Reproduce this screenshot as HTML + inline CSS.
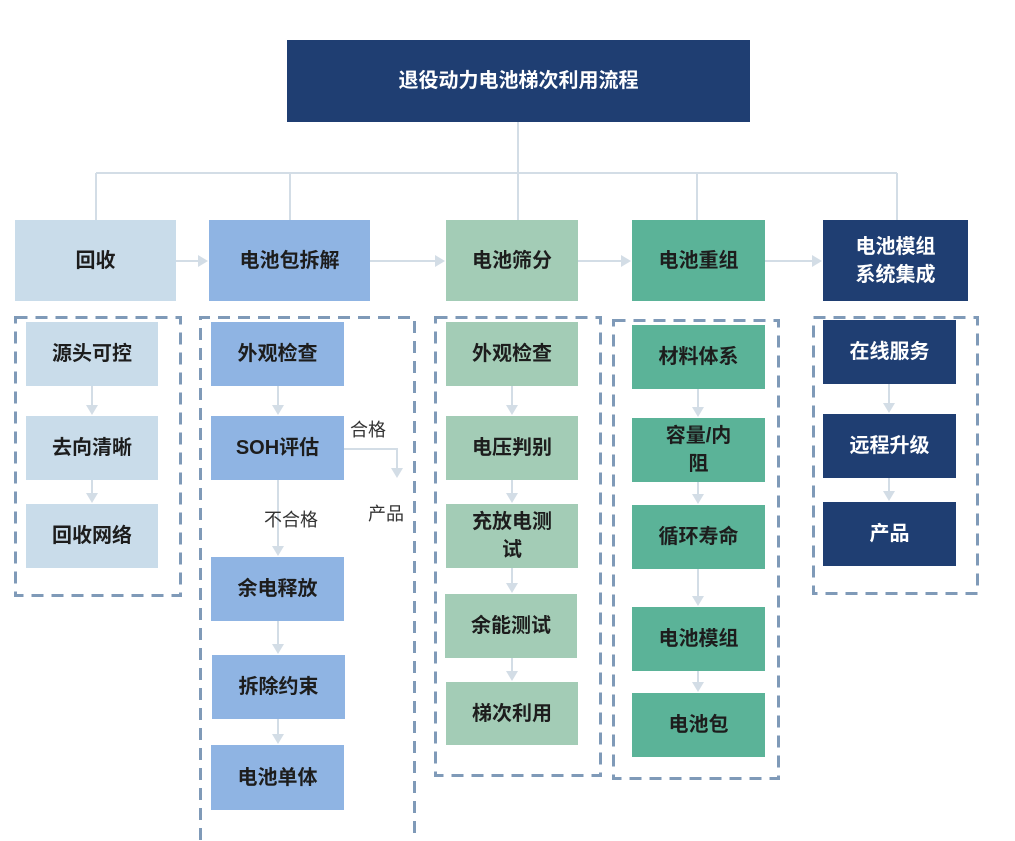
<!DOCTYPE html>
<html><head><meta charset="utf-8"><style>
body{margin:0;width:1015px;height:841px;background:#fff;position:relative;overflow:hidden;font-family:"Liberation Sans","Noto Sans CJK SC",sans-serif;}
.b{position:absolute;display:flex;align-items:center;justify-content:center;text-align:center;font-size:20px;font-weight:bold;color:#1d1d1d;line-height:28px;}
.c1{background:#c9dcea}.c2{background:#8fb4e3}.c3{background:#a3ccb6}.c4{background:#5bb398}.c5{background:#1f3e72;color:#fff}
.t{position:absolute;font-size:18px;color:#333}
svg{position:absolute;left:0;top:0}
</style></head><body>
<svg width="1015" height="841">
<g stroke="#d3dde6" stroke-width="2" fill="none">
<path d="M518 122V173M96 173H897M96 173V220M290 173V220M518 173V220M697 173V220M897 173V220"/>
<path d="M176 261H200M370 261H437M578 261H623M765 261H814"/>
<path d="M92 386V407M92 480V495M278 386V407M278 480V548M278 621V646M278 719V736M512 386V407M512 480V495M512 568V585M512 658V673M698 389V409M698 482V496M698 569V598M698 671V684M889 384V405M889 478V493"/>
<path d="M344 449H397V470"/>
</g>
<g stroke="#7f9ab8" stroke-width="3" fill="none" stroke-dasharray="12 8">
<rect x="15.5" y="317.5" width="165" height="278"/>
<path d="M200.5 860V317.5H414.5V860"/>
<rect x="435.5" y="317.5" width="165" height="458"/>
<rect x="613.5" y="320.5" width="165" height="458"/>
<rect x="813.5" y="317.5" width="164" height="276"/>
</g>
<g fill="#d3dde6">
<path d="M208 261l-10-6v12zM445 261l-10-6v12zM631 261l-10-6v12zM822 261l-10-6v12z"/>
<path d="M92 415l-6-10h12zM92 503l-6-10h12zM278 415l-6-10h12zM278 556l-6-10h12zM278 654l-6-10h12zM278 744l-6-10h12zM512 415l-6-10h12zM512 503l-6-10h12zM512 593l-6-10h12zM512 681l-6-10h12zM698 417l-6-10h12zM698 504l-6-10h12zM698 606l-6-10h12zM698 692l-6-10h12zM889 413l-6-10h12zM889 501l-6-10h12zM397 478l-6-10h12z"/>
</g>
</svg>
<div class="b c5" style="left:287px;top:40px;width:463px;height:82px;">退役动力电池梯次利用流程</div>
<div class="b c1" style="left:15px;top:220px;width:161px;height:81px;">回收</div>
<div class="b c2" style="left:209px;top:220px;width:161px;height:81px;">电池包拆解</div>
<div class="b c3" style="left:446px;top:220px;width:132px;height:81px;">电池筛分</div>
<div class="b c4" style="left:632px;top:220px;width:133px;height:81px;">电池重组</div>
<div class="b c5" style="left:823px;top:220px;width:145px;height:81px;">电池模组<br>系统集成</div>
<div class="b c1" style="left:26px;top:322px;width:132px;height:64px;">源头可控</div>
<div class="b c1" style="left:26px;top:416px;width:132px;height:64px;">去向清晰</div>
<div class="b c1" style="left:26px;top:504px;width:132px;height:64px;">回收网络</div>
<div class="b c2" style="left:211px;top:322px;width:133px;height:64px;">外观检查</div>
<div class="b c2" style="left:211px;top:416px;width:133px;height:64px;">SOH评估</div>
<div class="b c2" style="left:211px;top:557px;width:133px;height:64px;">余电释放</div>
<div class="b c2" style="left:212px;top:655px;width:133px;height:64px;">拆除约束</div>
<div class="b c2" style="left:211px;top:745px;width:133px;height:65px;">电池单体</div>
<div class="t" style="left:350px;top:416px;">合格</div>
<div class="t" style="left:368px;top:500px;">产品</div>
<div class="t" style="left:264px;top:506px;">不合格</div>
<div class="b c3" style="left:446px;top:322px;width:132px;height:64px;">外观检查</div>
<div class="b c3" style="left:446px;top:416px;width:132px;height:64px;">电压判别</div>
<div class="b c3" style="left:446px;top:504px;width:132px;height:64px;">充放电测<br>试</div>
<div class="b c3" style="left:445px;top:594px;width:132px;height:64px;">余能测试</div>
<div class="b c3" style="left:446px;top:682px;width:132px;height:63px;">梯次利用</div>
<div class="b c4" style="left:632px;top:325px;width:133px;height:64px;">材料体系</div>
<div class="b c4" style="left:632px;top:418px;width:133px;height:64px;">容量/内<br>阻</div>
<div class="b c4" style="left:632px;top:505px;width:133px;height:64px;">循环寿命</div>
<div class="b c4" style="left:632px;top:607px;width:133px;height:64px;">电池模组</div>
<div class="b c4" style="left:632px;top:693px;width:133px;height:64px;">电池包</div>
<div class="b c5" style="left:823px;top:320px;width:133px;height:64px;">在线服务</div>
<div class="b c5" style="left:823px;top:414px;width:133px;height:64px;">远程升级</div>
<div class="b c5" style="left:823px;top:502px;width:133px;height:64px;">产品</div>
</body></html>
